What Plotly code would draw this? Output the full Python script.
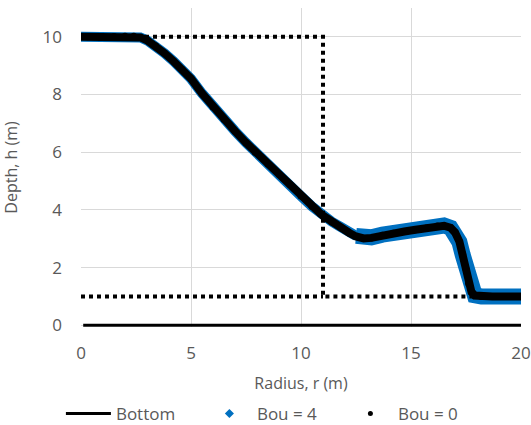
import plotly.graph_objects as go

# ---- data ----
r_pts = [0.0, 0.3, 0.6, 1.0, 1.5, 2.0, 2.4, 2.7, 3.0, 3.4, 3.8, 4.2, 4.6, 5.0,
         5.5, 6.0, 6.5, 7.0, 7.5, 7.92, 8.5, 9.0, 9.5, 10.0, 10.5, 10.9, 11.0,
         11.4, 11.8, 12.2, 12.5, 12.85, 13.2, 13.7, 14.2, 14.7, 15.2, 15.7,
         16.2, 16.5, 16.8, 17.0, 17.2, 17.35, 17.5, 17.62, 17.75, 17.9, 18.2,
         18.7, 19.2, 19.6, 20.0]
h_bou0 = [10.0, 10.0, 10.0, 10.0, 10.01, 10.02, 10.02, 9.98, 9.88, 9.68, 9.43,
          9.16, 8.87, 8.55, 8.04, 7.57, 7.14, 6.73, 6.33, 6.0, 5.59, 5.24, 4.88,
          4.48, 4.12, 3.86, 3.8, 3.58, 3.40, 3.20, 3.08, 3.01, 3.03, 3.12, 3.19,
          3.25, 3.31, 3.37, 3.44, 3.45, 3.38, 3.22, 2.90, 2.45, 1.95, 1.45, 1.15,
          1.03, 1.0, 1.0, 1.0, 1.0, 1.0]
h_bou4 = [10.0, 10.0, 10.0, 10.0, 10.01, 10.02, 10.02, 9.98, 9.88, 9.68, 9.43,
          9.16, 8.87, 8.55, 8.04, 7.57, 7.14, 6.73, 6.33, 6.0, 5.59, 5.24, 4.88,
          4.48, 4.12, 3.86, 3.8, 3.59, 3.41, 3.22, 3.10, 3.03, 3.05, 3.14, 3.21,
          3.27, 3.33, 3.39, 3.46, 3.46, 3.38, 3.21, 2.89, 2.44, 1.94, 1.45, 1.15,
          1.04, 1.0, 1.0, 1.0, 1.0, 1.0]
split_r = 12.5  # blue band widens after this radius

r_init = [0.0, 11.0, 11.0, 20.0]
h_init = [10.0, 10.0, 1.0, 1.0]
r_init2 = [0.0, 11.0]
h_init2 = [1.0, 1.0]

r_bottom = [0.1, 20.0]
h_bottom = [0.0, 0.0]

x_ticks = [0, 5, 10, 15, 20]
y_ticks = [0, 2, 4, 6, 8, 10]

BLUE = "#0070C0"
GREY = "#595959"
FONT = "Open Sans"

fig = go.Figure()

# bottom line
fig.add_trace(go.Scatter(x=r_bottom, y=h_bottom, mode="lines",
                         line=dict(color="black", width=3),
                         name="Bottom", showlegend=True))

# Bou = 4 (blue), split in two for band thickness
idx_a = [i for i, r in enumerate(r_pts) if r <= split_r]
idx_b = [i for i, r in enumerate(r_pts) if r >= split_r]
fig.add_trace(go.Scatter(x=[r_pts[i] for i in idx_a], y=[h_bou4[i] for i in idx_a],
                         mode="lines", line=dict(color=BLUE, width=10),
                         showlegend=False, hoverinfo="skip"))
fig.add_trace(go.Scatter(x=[r_pts[i] for i in idx_b], y=[h_bou4[i] for i in idx_b],
                         mode="lines", line=dict(color=BLUE, width=16),
                         showlegend=False, hoverinfo="skip"))
# Bou = 0 (black)
fig.add_trace(go.Scatter(x=r_pts, y=h_bou0, mode="lines+markers",
                         line=dict(color="black", width=8),
                         marker=dict(color="black", size=7),
                         showlegend=False, hoverinfo="skip"))

# dotted initial-condition lines
for xs, ys in ((r_init, h_init), (r_init2, h_init2)):
    fig.add_trace(go.Scatter(x=xs, y=ys, mode="lines",
                             line=dict(color="black", width=4, dash="4px,4px"),
                             showlegend=False, hoverinfo="skip"))

# legend entries
fig.add_trace(go.Scatter(x=[None], y=[None], mode="markers", name="Bou = 4",
                         marker=dict(color=BLUE, symbol="diamond", size=7)))
fig.add_trace(go.Scatter(x=[None], y=[None], mode="markers", name="Bou = 0",
                         marker=dict(color="black", symbol="circle", size=5)))

fig.update_layout(
    width=531, height=425,
    margin=dict(l=81, r=10, t=8, b=98, autoexpand=False),
    paper_bgcolor="white", plot_bgcolor="white",
    font=dict(family=FONT, color=GREY, size=17),
    showlegend=True,
    legend=dict(orientation="h", xref="container", yref="container",
                x=0.513, xanchor="center", y=0.026, yanchor="middle",
                font=dict(size=17, color=GREY), itemwidth=45,
                entrywidth=81, entrywidthmode="pixels",
                traceorder="normal"),
)
fig.update_xaxes(range=[0, 20], tickvals=x_ticks, showgrid=True,
                 gridcolor="#D9D9D9", gridwidth=1, zeroline=False,
                 showline=False, ticks="", ticklabelstandoff=14,
                 automargin=False,
                 tickfont=dict(size=17, color=GREY),
                 title=dict(text="Radius, r (m)", font=dict(size=16, color=GREY),
                            standoff=14))
fig.update_yaxes(range=[-0.06, 11.0], tickvals=y_ticks, showgrid=True,
                 gridcolor="#D9D9D9", gridwidth=1, zeroline=False,
                 showline=False, ticks="", ticklabelstandoff=18,
                 automargin=False,
                 tickfont=dict(size=17, color=GREY),
                 title=dict(text="Depth, h (m)", font=dict(size=16, color=GREY),
                            standoff=22))

fig.write_html("out.html", config={"displayModeBar": False},
               post_script="document.body.style.margin='0';")
